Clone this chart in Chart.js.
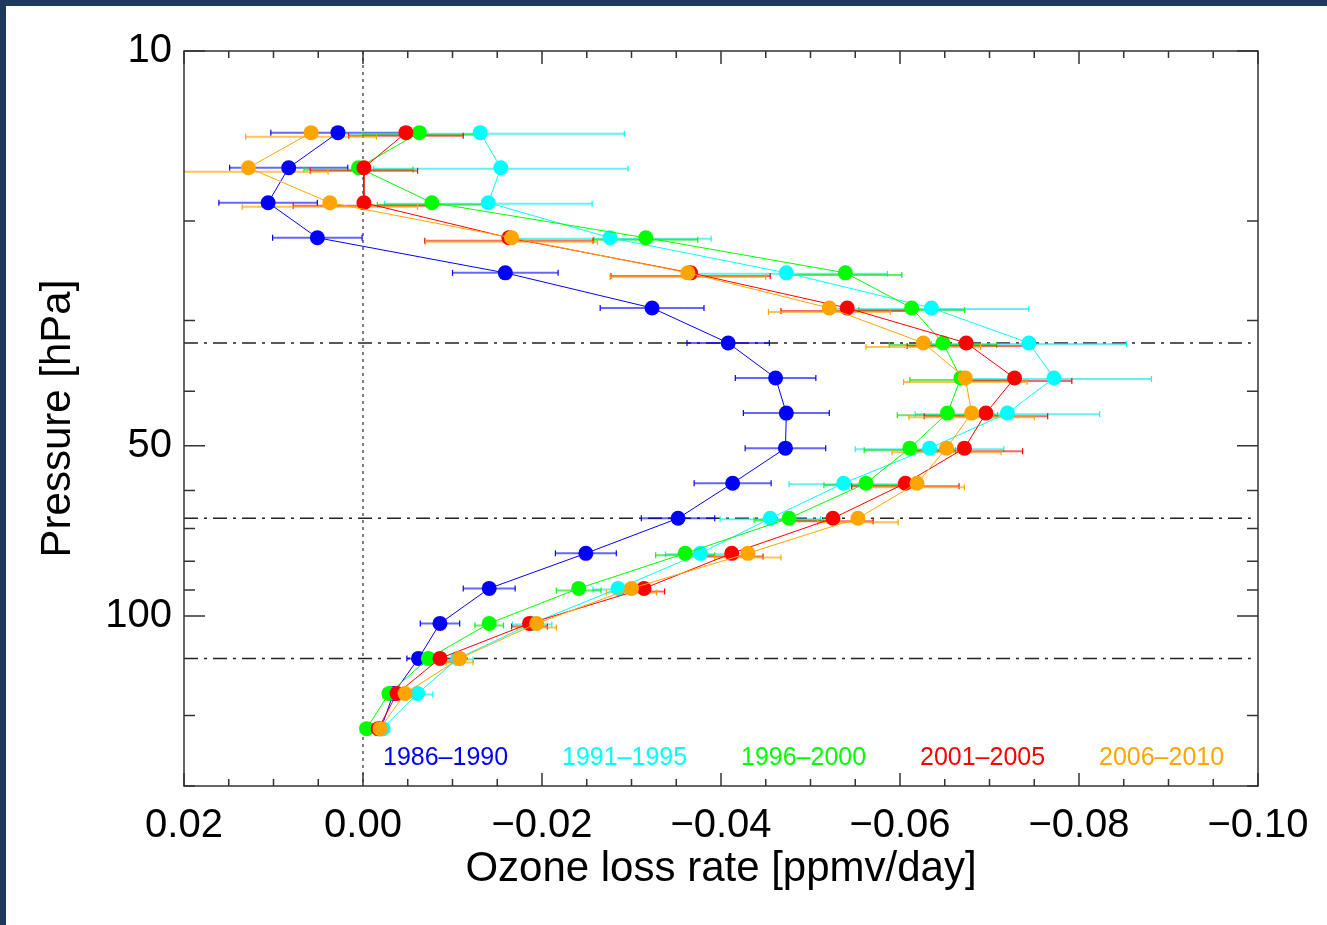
<!DOCTYPE html>
<html>
<head>
<meta charset="utf-8">
<title>Ozone loss rate profiles</title>
<script src="https://cdn.jsdelivr.net/npm/chart.js@4.4.1/dist/chart.umd.min.js"></script>
<style>
  html, body { margin: 0; padding: 0; background: #fff; }
  body { border-left: 6px solid #1d3a5e; border-top: 6px solid #1d3a5e; width: 1321px; height: 919px; }
  #wrap { width: 1321px; height: 919px; position: relative; background: #fff; }
</style>
</head>
<body>
<div id="wrap"><canvas id="ozoneChart"></canvas></div>
<script>
// pressure levels of the profiles [hPa]
const levels = [13.95, 16.09, 18.56, 21.41, 24.70, 28.50, 32.87, 37.92, 43.75, 50.47,
                58.22, 67.17, 77.48, 89.39, 103.1, 118.9, 137.2, 158.3];

const periods = ['1986\u20131990', '1991\u20131995', '1996\u20132000', '2001\u20132005', '2006\u20132010'];

// ozone loss rate [ppmv/day] and its uncertainty, per period
const loss8690 = [0.0028, 0.0083, 0.0106, 0.0051, -0.0159, -0.0323, -0.0408, -0.0461, -0.0473, -0.0472,
                  -0.0413, -0.0352, -0.0249, -0.0141, -0.0086, -0.0062, -0.0034, -0.0020];
const err8690  = [0.0075, 0.0066, 0.0055, 0.0050, 0.0059, 0.0058, 0.0046, 0.0045, 0.0048, 0.0045,
                  0.0043, 0.0041, 0.0034, 0.0029, 0.0022, 0.0013, 0.0007, 0.0004];

const loss9195 = [-0.0131, -0.0154, -0.0140, -0.0276, -0.0473, -0.0635, -0.0744, -0.0772, -0.0720, -0.0633,
                  -0.0537, -0.0455, -0.0377, -0.0285, -0.0189, -0.0106, -0.0061, -0.0022];
const err9195  = [0.0161, 0.0142, 0.0116, 0.0113, 0.0113, 0.0109, 0.0109, 0.0109, 0.0103, 0.0083,
                  0.0061, 0.0056, 0.0039, 0.0028, 0.0022, 0.0017, 0.0017, 0.0008];

const loss9600 = [-0.0063, 0.0005, -0.0077, -0.0316, -0.0539, -0.0613, -0.0648, -0.0668, -0.0653, -0.0611,
                  -0.0562, -0.0476, -0.0360, -0.0241, -0.0141, -0.0073, -0.0029, -0.0004];
const err9600  = [0.0063, 0.0061, 0.0061, 0.0058, 0.0063, 0.0059, 0.0060, 0.0057, 0.0056, 0.0051,
                  0.0047, 0.0039, 0.0033, 0.0025, 0.0016, 0.0011, 0.0007, 0.0004];

const loss0105 = [-0.0048, -0.0001, -0.0001, -0.0163, -0.0366, -0.0541, -0.0674, -0.0728, -0.0696, -0.0672,
                  -0.0606, -0.0525, -0.0412, -0.0314, -0.0186, -0.0086, -0.0038, -0.0017];
const err0105  = [0.0064, 0.0060, 0.0079, 0.0094, 0.0089, 0.0074, 0.0066, 0.0064, 0.0069, 0.0065,
                  0.0060, 0.0045, 0.0035, 0.0023, 0.0020, 0.0013, 0.0007, 0.0004];

const loss0610 = [0.0058, 0.0128, 0.0037, -0.0166, -0.0363, -0.0521, -0.0626, -0.0673, -0.0680, -0.0652,
                  -0.0619, -0.0553, -0.0430, -0.0300, -0.0194, -0.0108, -0.0047, -0.0019];
const err0610  = [0.0073, 0.0089, 0.0098, 0.0096, 0.0087, 0.0068, 0.0064, 0.0069, 0.0070, 0.0061,
                  0.0053, 0.0045, 0.0037, 0.0028, 0.0022, 0.0015, 0.0009, 0.0006];

// dash-dot layer boundaries [hPa]
const layerBounds = [32.87, 67.17, 118.9];

// axes
const xMin = -0.10, xMax = 0.02, xMajorStep = 0.02, xMinorStep = 0.005;
const yMin = 10, yMax = 200;
const yLabeled = [10, 50, 100];

const lossSeries = [loss8690, loss9195, loss9600, loss0105, loss0610];
const errSeries = [err8690, err9195, err9600, err0105, err0610];
const colors = ['#0000ff', '#00ffff', '#00ff00', '#ff0000', '#ffa500'];
const errColors = ['rgba(0,0,255,0.6)', 'rgba(0,230,230,0.6)', 'rgba(0,220,0,0.6)', 'rgba(255,0,0,0.6)', 'rgba(255,165,0,0.65)'];

const FONT = '"Liberation Sans", Arial, Helvetica, sans-serif';

function isMajorX(v) {
  return Math.abs(Math.round(v / xMajorStep) * xMajorStep - v) < 1e-9;
}

function fmtX(v) {
  const r = Math.round(v * 100) / 100;
  if (Math.abs(r) < 1e-9) return '0.00';
  return (r < 0 ? '\u2212' : '') + Math.abs(r).toFixed(2);
}

const datasets = [];

// profiles (first ones drawn on top)
for (let i = lossSeries.length - 1; i >= 0; i--) {
  datasets.push({
    label: periods[i],
    data: levels.map((p, k) => ({ x: lossSeries[i][k], y: p })),
    showLine: true,
    borderColor: colors[i],
    borderWidth: 1,
    pointRadius: 7.5,
    pointHoverRadius: 7.5,
    pointBackgroundColor: colors[i],
    pointBorderWidth: 0,
    order: lossSeries.length - 1 - i
  });
}

// error bars, each one slightly shifted down
lossSeries.forEach((s, i) => {
  const shift = Math.pow(10, i * 0.0018);
  const pts = [];
  levels.forEach((p, k) => {
    pts.push({ x: s[k] - errSeries[i][k], y: p * shift });
    pts.push({ x: s[k] + errSeries[i][k], y: p * shift });
    pts.push({ x: NaN, y: NaN });
  });
  datasets.push({
    label: periods[i] + ' error',
    data: pts,
    showLine: true,
    spanGaps: false,
    borderColor: errColors[i],
    borderWidth: 2,
    pointStyle: 'line',
    rotation: 90,
    pointRadius: 3,
    pointHoverRadius: 3,
    pointBorderColor: colors[i],
    pointBorderWidth: 1.2,
    order: 5 + (lossSeries.length - 1 - i)
  });
});

// zero line
datasets.push({
  label: 'zero',
  data: [{ x: 0, y: yMin }, { x: 0, y: yMax }],
  showLine: true,
  borderColor: '#000',
  borderWidth: 1,
  borderDash: [3, 4],
  pointRadius: 0,
  order: 20
});

layerBounds.forEach(p => {
  datasets.push({
    label: 'layer ' + p,
    data: [{ x: xMax, y: p }, { x: -0.0992, y: p }],
    showLine: true,
    borderColor: '#222',
    borderWidth: 1.5,
    borderDash: [14, 6, 3, 6],
    pointRadius: 0,
    order: 21
  });
});

// frame with inward ticks on all four sides
const frameTicks = {
  id: 'frameTicks',
  afterDatasetsDraw(chart) {
    const { ctx, chartArea: a, scales: { x, y } } = chart;
    ctx.save();
    ctx.strokeStyle = '#333';
    ctx.lineWidth = 1.5;
    ctx.strokeRect(a.left, a.top, a.right - a.left, a.bottom - a.top);
    ctx.beginPath();
    x.ticks.forEach(t => {
      const px = x.getPixelForValue(t.value);
      const len = isMajorX(t.value) ? 13 : 7;
      ctx.moveTo(px, a.bottom); ctx.lineTo(px, a.bottom - len);
      ctx.moveTo(px, a.top); ctx.lineTo(px, a.top + len);
    });
    y.ticks.forEach(t => {
      const py = y.getPixelForValue(t.value);
      const len = yLabeled.includes(t.value) ? 21 : 11;
      ctx.moveTo(a.left, py); ctx.lineTo(a.left + len, py);
      ctx.moveTo(a.right, py); ctx.lineTo(a.right - len, py);
    });
    ctx.stroke();
    ctx.restore();
  }
};

// coloured period labels inside the plot
const periodLabels = {
  id: 'periodLabels',
  afterDatasetsDraw(chart) {
    const { ctx, chartArea: a } = chart;
    ctx.save();
    ctx.font = '25px ' + FONT;
    ctx.textBaseline = 'middle';
    ctx.textAlign = 'left';
    periods.forEach((p, i) => {
      ctx.fillStyle = colors[i];
      ctx.fillText(p, a.left + 199 + i * 179, a.bottom - 28);
    });
    ctx.restore();
  }
};

new Chart(document.getElementById('ozoneChart'), {
  type: 'scatter',
  data: { datasets },
  options: {
    responsive: true,
    maintainAspectRatio: false,
    animation: false,
    events: [],
    layout: { padding: { top: 45, right: 69, bottom: 0, left: 0 } },
    plugins: { legend: { display: false }, tooltip: { enabled: false } },
    scales: {
      x: {
        type: 'linear',
        min: xMin,
        max: xMax,
        reverse: true,
        grid: { display: false, drawTicks: false },
        border: { display: false },
        ticks: {
          stepSize: xMinorStep,
          maxTicksLimit: 100,
          autoSkip: false,
          maxRotation: 0,
          padding: 16,
          color: '#000',
          font: { family: FONT, size: 40 },
          callback: v => isMajorX(v) ? fmtX(v) : ''
        },
        title: {
          display: true,
          text: 'Ozone loss rate [ppmv/day]',
          color: '#000',
          font: { family: FONT, size: 42 },
          padding: { top: 0, bottom: 30 }
        },
        afterFit: scale => { scale.height = 139; }
      },
      y: {
        type: 'logarithmic',
        min: yMin,
        max: yMax,
        reverse: true,
        grid: { display: false, drawTicks: false },
        border: { display: false },
        ticks: {
          autoSkip: false,
          padding: 12,
          color: '#000',
          font: { family: FONT, size: 40 },
          callback: v => yLabeled.includes(v) ? String(v) : ''
        },
        title: {
          display: true,
          text: 'Pressure [hPa]',
          color: '#000',
          font: { family: FONT, size: 42 },
          padding: { top: 27, bottom: 0 }
        },
        afterFit: scale => { scale.width = 178; }
      }
    }
  },
  plugins: [frameTicks, periodLabels]
});
</script>
</body>
</html>
